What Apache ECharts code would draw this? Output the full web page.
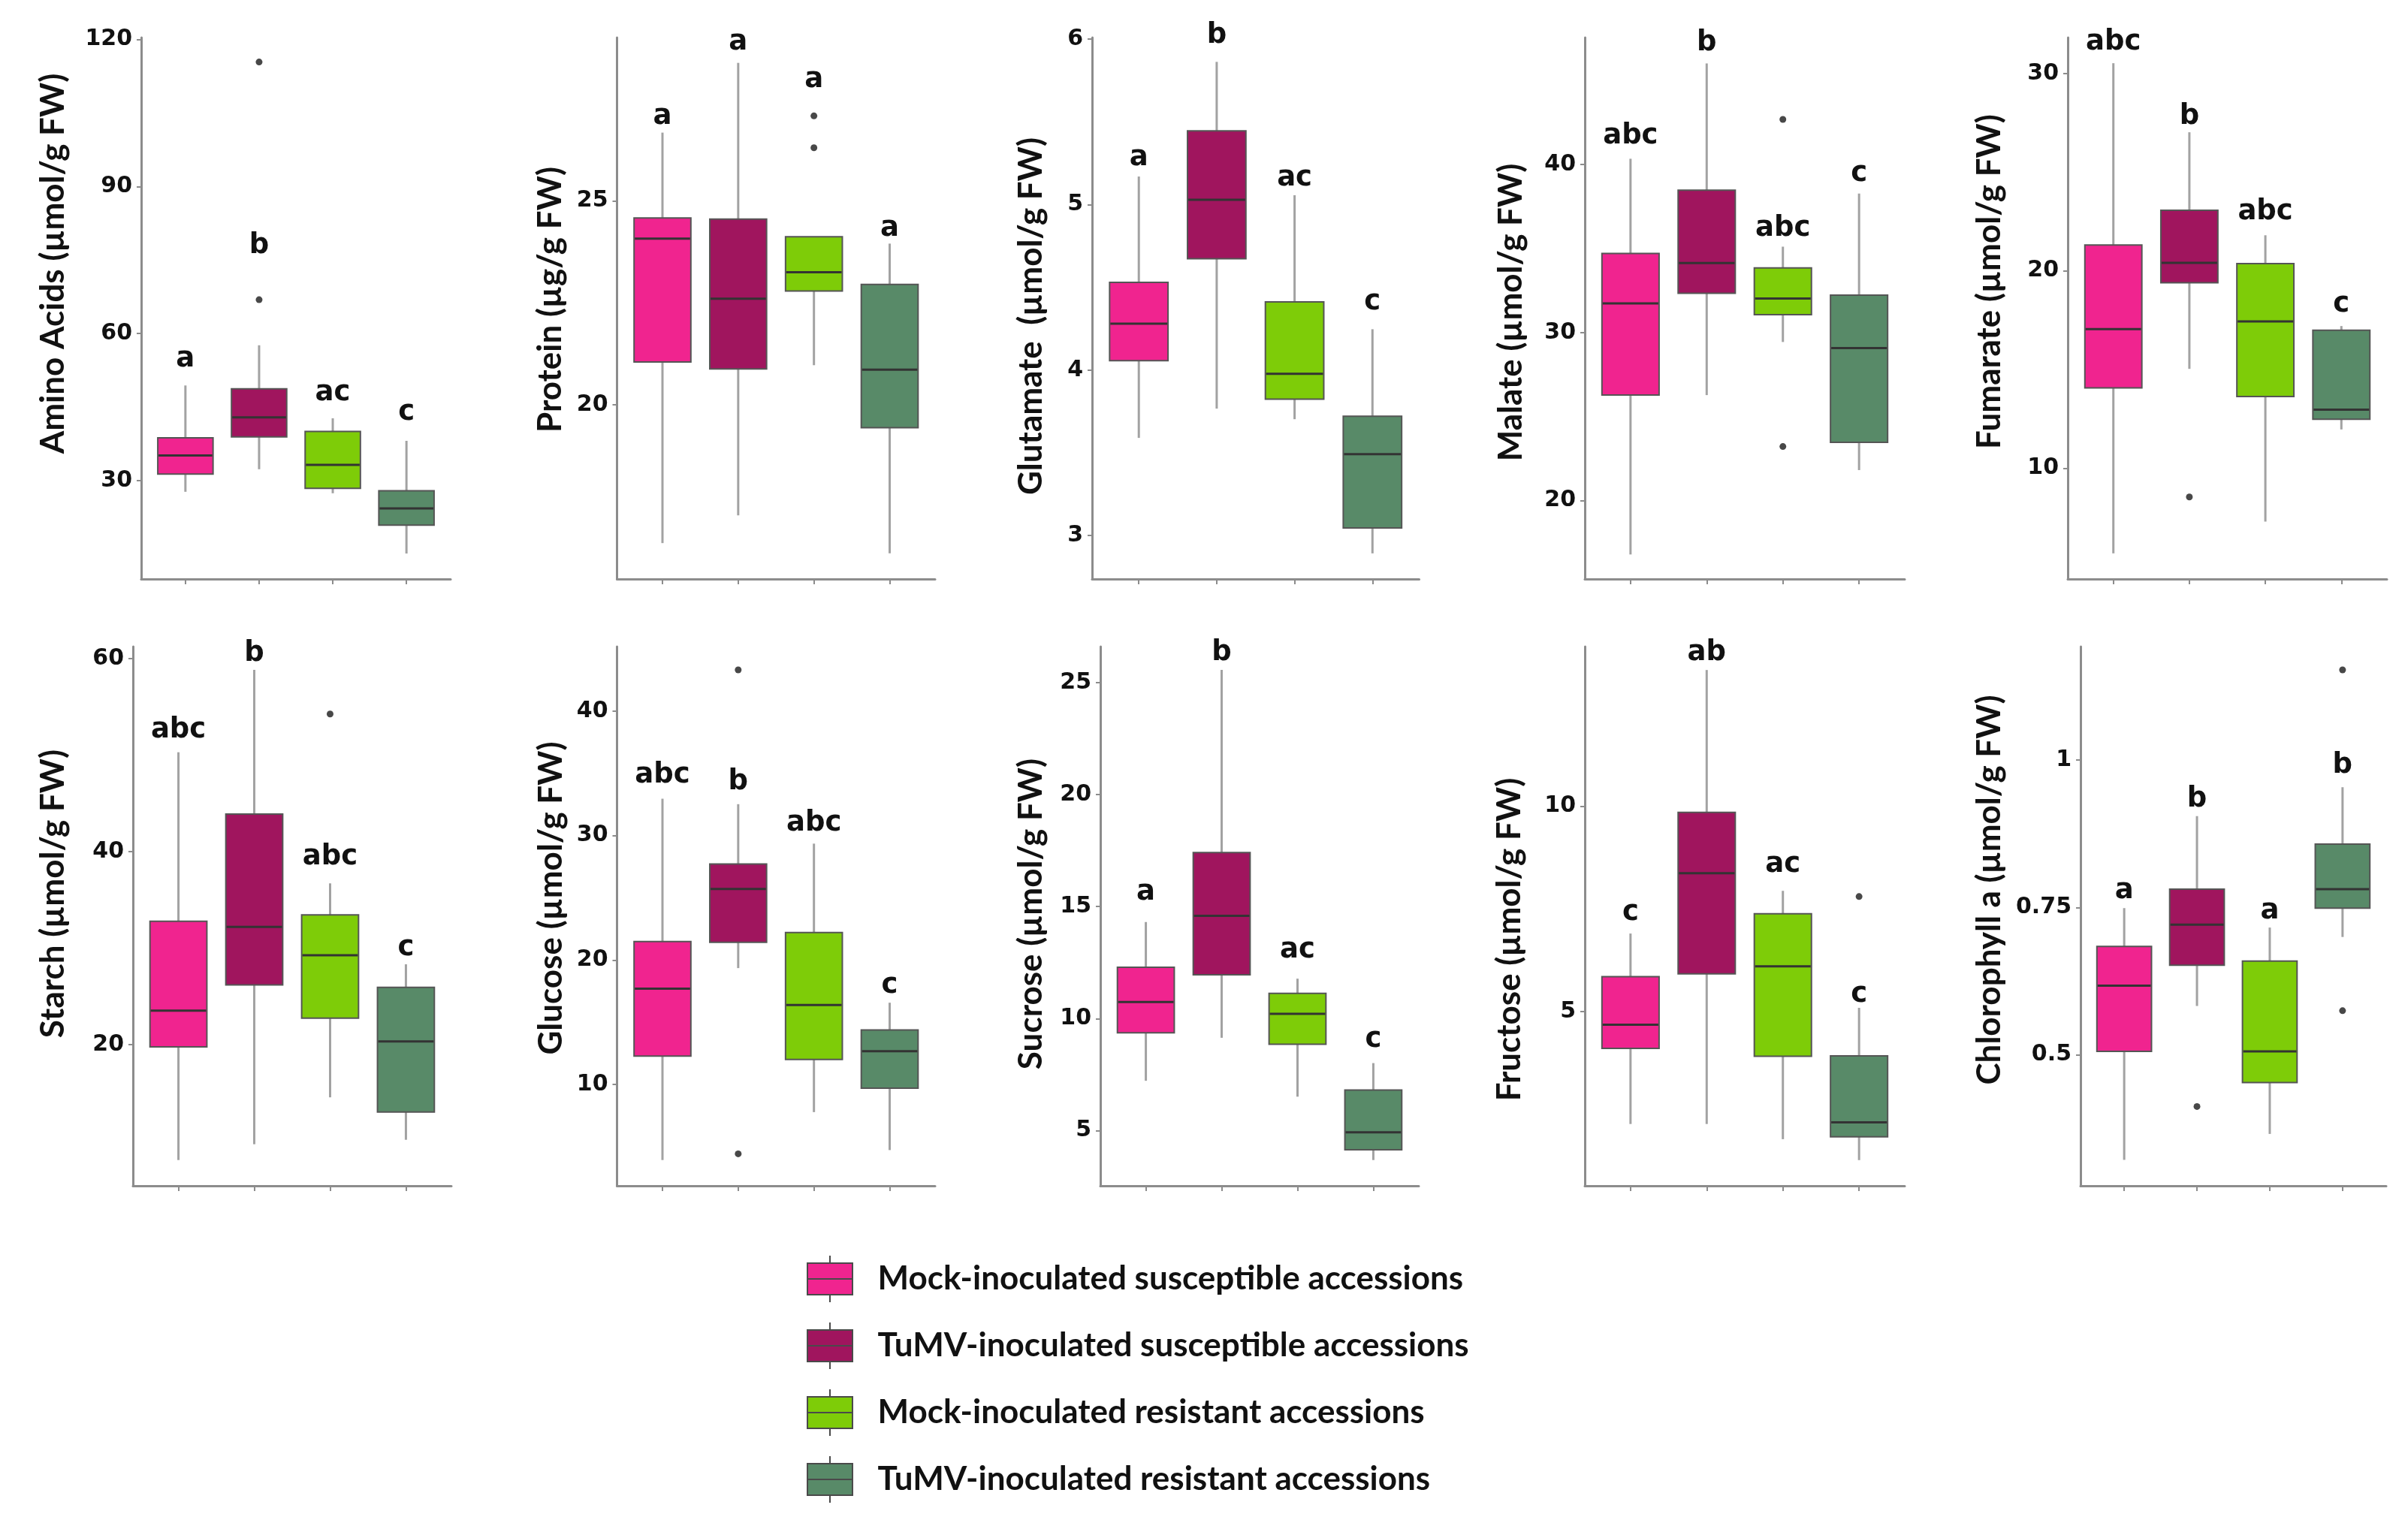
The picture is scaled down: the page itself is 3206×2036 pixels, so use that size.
<!DOCTYPE html>
<html><head><meta charset="utf-8">
<script src="https://cdn.jsdelivr.net/npm/echarts@6/dist/echarts.min.js"></script>
<style>html,body{margin:0;padding:0;background:#fff}#c{width:3206px;height:2036px}</style>
</head><body><div id="c"></div>
<script>
const groups = ['Mock-inoculated susceptible accessions','TuMV-inoculated susceptible accessions','Mock-inoculated resistant accessions','TuMV-inoculated resistant accessions'];
const groupColors = ['#F0248F','#A0155E','#7ECC08','#588A68'];
const groupPositions = [1,2,3,4];

// rows: [lower whisker, Q1, median, Q3, upper whisker] per group
const aminoAcids = [[27.7,31.3,35.1,38.7,49.4],[32.3,38.9,42.9,48.7,57.6],[27.4,28.4,33.2,40.0,42.7],[15.1,20.9,24.3,27.9,38.1]];
const aminoAcidsOutliers = [[2,115.4],[2,66.9]];
const aminoAcidsLetters = ['a','b','ac','c'];
const aminoAcidsLetterAt = [54.7,77.9,47.8,43.9];
const aminoAcidsTicks = [30,60,90,120];
const aminoAcidsRange = [9.9,120.4];

const protein = [[16.61,21.05,24.07,24.58,26.67],[17.29,20.88,22.6,24.55,28.38],[20.97,22.79,23.25,24.12,24.12],[16.36,19.44,20.86,22.95,23.95]];
const proteinOutliers = [[3,27.08],[3,26.30]];
const proteinLetters = ['a','a','a','a'];
const proteinLetterAt = [27.06,28.88,27.97,24.32];
const proteinTicks = [20,25];
const proteinRange = [15.73,29.0];

const glutamate = [[3.59,4.057,4.28,4.53,5.17],[3.767,4.673,5.03,5.446,5.863],[3.703,3.824,3.977,4.412,5.057],[2.892,3.046,3.492,3.721,4.247]];
const glutamateOutliers = [];
const glutamateLetters = ['a','b','ac','c'];
const glutamateLetterAt = [5.28,6.02,5.16,4.41];
const glutamateTicks = [3,4,5,6];
const glutamateRange = [2.737,6.01];

const malate = [[16.8,26.28,31.73,34.71,40.34],[26.28,32.34,34.14,38.47,46.01],[29.44,31.06,32.03,33.85,35.11],[21.82,23.47,29.08,32.23,38.27]];
const malateOutliers = [[3,42.68],[3,23.22]];
const malateLetters = ['abc','b','abc','c'];
const malateLetterAt = [41.69,47.2,36.17,39.44];
const malateTicks = [20,30,40];
const malateRange = [15.34,47.55];

const fumarate = [[5.68,14.07,17.04,21.31,30.52],[15.03,19.39,20.40,23.07,27.02],[7.29,13.63,17.43,20.36,21.80],[11.96,12.48,12.96,16.99,17.20]];
const fumarateOutliers = [[2,8.54]];
const fumarateLetters = ['abc','b','abc','c'];
const fumarateLetterAt = [31.59,27.79,22.96,18.3];
const fumarateTicks = [10,20,30];
const fumarateRange = [4.38,31.82];

const starch = [[8.04,19.77,23.53,32.78,50.31],[9.68,26.2,32.2,43.9,58.85],[14.54,22.75,29.26,33.46,36.72],[10.14,13.01,20.34,25.93,28.33]];
const starchOutliers = [[3,54.27]];
const starchLetters = ['abc','b','abc','c'];
const starchLetterAt = [52.6,60.5,39.43,30.0];
const starchTicks = [20,40,60];
const starchRange = [5.37,61.26];

const glucose = [[3.93,12.28,17.7,21.48,32.96],[19.35,21.42,25.7,27.72,32.52],[7.78,12.01,16.38,22.21,29.35],[4.73,9.7,12.67,14.38,16.57]];
const glucoseOutliers = [[2,43.31],[2,4.43]];
const glucoseLetters = ['abc','b','abc','c'];
const glucoseLetterAt = [34.82,34.28,30.95,17.94];
const glucoseTicks = [10,20,30,40];
const glucoseRange = [1.86,45.18];

const sucrose = [[7.22,9.36,10.74,12.29,14.31],[9.14,11.95,14.59,17.41,25.57],[6.51,8.85,10.21,11.12,11.78],[3.68,4.14,4.92,6.81,8.01]];
const sucroseOutliers = [];
const sucroseLetters = ['a','b','ac','c'];
const sucroseLetterAt = [15.63,26.32,13.06,9.05];
const sucroseTicks = [5,10,15,20,25];
const sucroseRange = [2.53,26.61];

const fructose = [[2.26,4.10,4.68,5.85,6.9],[2.26,5.92,8.37,9.85,13.32],[1.89,3.91,6.1,7.38,7.94],[1.38,1.95,2.30,3.92,5.09]];
const fructoseOutliers = [[4,7.80]];
const fructoseLetters = ['c','ab','ac','c'];
const fructoseLetterAt = [7.4,13.74,8.57,5.42];
const fructoseTicks = [5,10];
const fructoseRange = [0.754,13.89];

const chlorophyll = [[0.322,0.506,0.6175,0.684,0.749],[0.583,0.652,0.721,0.781,0.905],[0.366,0.453,0.506,0.659,0.716],[0.70,0.749,0.781,0.8575,0.954]];
const chlorophyllOutliers = [[2,0.4125],[4,1.153],[4,0.575]];
const chlorophyllLetters = ['a','b','a','b'];
const chlorophyllLetterAt = [0.778,0.934,0.744,0.991];
const chlorophyllTicks = [0.5,0.75,1];
const chlorophyllRange = [0.278,1.1925];

const panelTitles = ['Amino Acids (µmol/g FW)','Protein (µg/g FW)','Glutamate  (µmol/g FW)','Malate (µmol/g FW)','Fumarate (µmol/g FW)',
  'Starch (µmol/g FW)','Glucose (µmol/g FW)','Sucrose (µmol/g FW)','Fructose (µmol/g FW)','Chlorophyll a (µmol/g FW)'];

const panels = [
  [aminoAcids, aminoAcidsOutliers, aminoAcidsLetters, aminoAcidsLetterAt, aminoAcidsTicks, aminoAcidsRange],
  [protein, proteinOutliers, proteinLetters, proteinLetterAt, proteinTicks, proteinRange],
  [glutamate, glutamateOutliers, glutamateLetters, glutamateLetterAt, glutamateTicks, glutamateRange],
  [malate, malateOutliers, malateLetters, malateLetterAt, malateTicks, malateRange],
  [fumarate, fumarateOutliers, fumarateLetters, fumarateLetterAt, fumarateTicks, fumarateRange],
  [starch, starchOutliers, starchLetters, starchLetterAt, starchTicks, starchRange],
  [glucose, glucoseOutliers, glucoseLetters, glucoseLetterAt, glucoseTicks, glucoseRange],
  [sucrose, sucroseOutliers, sucroseLetters, sucroseLetterAt, sucroseTicks, sucroseRange],
  [fructose, fructoseOutliers, fructoseLetters, fructoseLetterAt, fructoseTicks, fructoseRange],
  [chlorophyll, chlorophyllOutliers, chlorophyllLetters, chlorophyllLetterAt, chlorophyllTicks, chlorophyllRange]
];

// layout (pixels)
const layout = [
  {left:188, top:50, width:412, height:721, tx:71, ty:351},
  {left:821.5, top:50, width:423.5, height:721, tx:733, ty:399},
  {left:1454, top:50, width:435.5, height:721, tx:1372.6, ty:421},
  {left:2110, top:50, width:426, height:721, tx:2012, ty:416},
  {left:2753, top:50, width:425, height:721, tx:2649, ty:375},
  {left:177, top:861, width:424, height:718, tx:71, ty:1190},
  {left:821.5, top:861, width:423.5, height:718, tx:733.6, ty:1196},
  {left:1465, top:861, width:424, height:718, tx:1372.6, ty:1217},
  {left:2110, top:861, width:426, height:718, tx:2010, ty:1251},
  {left:2770, top:861, width:407, height:718, tx:2649, ty:1185}
];

const AXIS_GREY = '#8c8c8c';
const TITLE_FONT = 'Lato';
const NUM_FONT = 'DejaVu Sans';

function makeRender(color, letter) {
  return function (params, api) {
    const x = api.value(0);
    const lo = api.coord([x, api.value(1)]);
    const q1 = api.coord([x, api.value(2)]);
    const md = api.coord([x, api.value(3)]);
    const q3 = api.coord([x, api.value(4)]);
    const hi = api.coord([x, api.value(5)]);
    const lab = api.coord([x, api.value(6)]);
    const hw = api.size([0.75, 0])[0] / 2;
    const cx = md[0];
    return {type: 'group', children: [
      {type: 'line', shape: {x1: cx, y1: hi[1], x2: cx, y2: q3[1]}, style: {stroke: '#a2a2a2', lineWidth: 3}},
      {type: 'line', shape: {x1: cx, y1: q1[1], x2: cx, y2: lo[1]}, style: {stroke: '#a2a2a2', lineWidth: 3}},
      {type: 'rect', shape: {x: cx - hw, y: q3[1], width: 2 * hw, height: q1[1] - q3[1]}, style: {fill: color, stroke: '#555555', lineWidth: 2}},
      {type: 'line', shape: {x1: cx - hw + 1, y1: md[1], x2: cx + hw - 1, y2: md[1]}, style: {stroke: '#333333', lineWidth: 3}},
      {type: 'text', x: cx, y: lab[1], style: {text: letter, fontFamily: NUM_FONT, fontWeight: 'bold', fontSize: 37, fill: '#111', align: 'center', verticalAlign: 'middle'}}
    ]};
  };
}

const grid = [], xAxis = [], yAxis = [], series = [], graphic = [];
panels.forEach(function (p, i) {
  const stats = p[0], outl = p[1], letters = p[2], letterAt = p[3], ticks = p[4], range = p[5];
  const L = layout[i];
  grid.push({left: L.left, top: L.top, width: L.width, height: L.height});
  xAxis.push({type: 'value', gridIndex: i, min: 0.4, max: 4.6,
    splitLine: {show: false},
    axisLine: {show: true, onZero: false, lineStyle: {color: AXIS_GREY, width: 3}},
    axisTick: {show: true, customValues: groupPositions, length: 7, lineStyle: {color: AXIS_GREY, width: 2}},
    axisLabel: {show: false}});
  yAxis.push({type: 'value', gridIndex: i, min: range[0], max: range[1],
    splitLine: {show: false},
    axisLine: {show: true, onZero: false, lineStyle: {color: AXIS_GREY, width: 3}},
    axisTick: {show: true, customValues: ticks, length: 6, lineStyle: {color: AXIS_GREY, width: 2}},
    axisLabel: {show: true, customValues: ticks, fontFamily: NUM_FONT, fontWeight: 'bold', fontSize: 30, color: '#111', margin: 12}});
  stats.forEach(function (s, g) {
    series.push({type: 'custom', name: groups[g], xAxisIndex: i, yAxisIndex: i, clip: false,
      itemStyle: {color: groupColors[g]},
      renderItem: makeRender(groupColors[g], letters[g]),
      data: [[groupPositions[g], s[0], s[1], s[2], s[3], s[4], letterAt[g]]]});
  });
  series.push({type: 'scatter', name: 'outliers', xAxisIndex: i, yAxisIndex: i, symbolSize: 9,
    itemStyle: {color: '#1a1a1a'}, data: outl, z: 5});
  graphic.push({type: 'text', x: L.tx, y: L.ty, rotation: Math.PI / 2,
    style: {text: panelTitles[i], fontFamily: TITLE_FONT, fontWeight: 'bold', fontSize: 44, fill: '#111', align: 'center', verticalAlign: 'middle'}});
});

const chart = echarts.init(document.getElementById('c'), null, {renderer: 'canvas'});
chart.setOption({
  backgroundColor: '#ffffff',
  animation: false,
  grid: grid, xAxis: xAxis, yAxis: yAxis, series: series, graphic: graphic,
  legend: {
    data: groups, orient: 'vertical', left: 1069, top: 1666,
    itemWidth: 61, itemHeight: 62, itemGap: 25, selectedMode: false,
    icon: 'path://M30,0L30,10M0,10L60,10L60,52L0,52ZM0,31L60,31M30,52L30,62',
    itemStyle: {borderColor: '#4a4a4a', borderWidth: 2},
    textStyle: {fontFamily: TITLE_FONT, fontWeight: 'bold', fontSize: 44, color: '#111', padding: [0, 0, 0, 28]}
  }
});
</script></body></html>
